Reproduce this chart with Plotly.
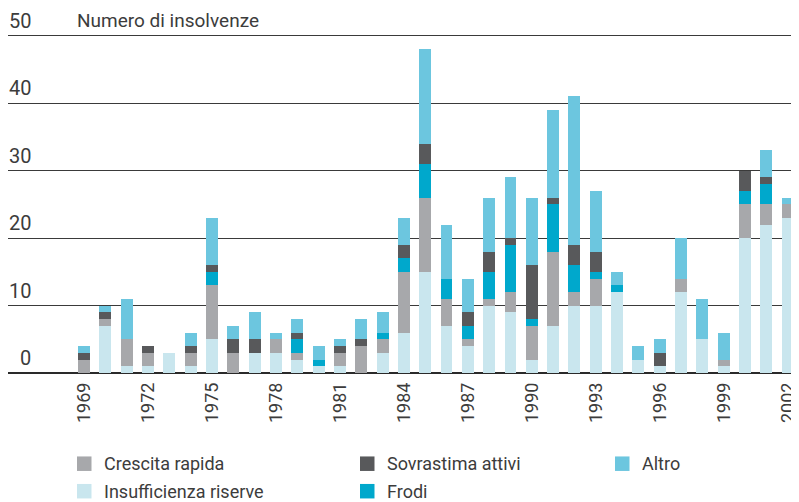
import plotly.graph_objects as go

# ---------------- data ----------------
years = list(range(1969, 2003))

insufficienza = [0, 7, 1, 1, 3, 1, 5, 0, 3, 3, 2,
                 1, 1, 0, 3, 6, 15, 7, 4, 10, 9,
                 2, 7, 10, 10, 12, 2, 1, 12, 5, 1,
                 20, 22, 23]
crescita = [2, 1, 4, 2, 0, 2, 8, 3, 0, 2, 1,
            0, 2, 4, 2, 9, 11, 4, 1, 1, 3,
            5, 11, 2, 4, 0, 0, 0, 2, 0, 1,
            5, 3, 2]
frodi = [0, 0, 0, 0, 0, 0, 2, 0, 0, 0, 2,
         1, 0, 0, 1, 2, 5, 3, 2, 4, 7,
         1, 7, 4, 1, 1, 0, 0, 0, 0, 0,
         2, 3, 0]
sovrastima = [1, 1, 0, 1, 0, 1, 1, 2, 2, 0, 1,
              0, 1, 1, 0, 2, 3, 0, 2, 3, 1,
              8, 1, 3, 3, 0, 0, 2, 0, 0, 0,
              3, 1, 0]
altro = [1, 1, 6, 0, 0, 2, 7, 2, 4, 1, 2,
         2, 1, 3, 3, 4, 14, 8, 5, 8, 9,
         10, 13, 22, 9, 2, 2, 2, 6, 6, 4,
         0, 4, 1]

series_names = ["Insufficienza riserve", "Crescita rapida", "Frodi",
                "Sovrastima attivi", "Altro"]
series_values = [insufficienza, crescita, frodi, sovrastima, altro]
series_colors = ["#c9e6ee", "#a7a8ab", "#00a8cc", "#58595b", "#6cc6df"]

x_tick_years = list(range(1969, 2003, 3))
y_ticks = [0, 10, 20, 30, 40, 50]
y_title = "Numero di insolvenze"

# legend layout: (name, column, row)
legend_layout = [("Crescita rapida", 0, 0), ("Sovrastima attivi", 1, 0),
                 ("Altro", 2, 0), ("Insufficienza riserve", 0, 1),
                 ("Frodi", 1, 1)]

# ---------------- geometry (page pixels; page body has an 8px margin) ----------------
OFF = 8
W, H = 799 - OFF, 502 - OFF
ML, MR = 0, 0
Y0_PX = 373.3 - OFF    # figure pixel of y = 0
UNIT = 6.75            # pixels per unit
YMAX = 52
MT = Y0_PX - YMAX * UNIT
MB = H - Y0_PX
PW = W - ML - MR
PH = H - MT - MB

def px_x(px):
    return (px - OFF - ML) / PW

def px_y(py):
    return (H - MB - (py - OFF)) / PH

x_step = (787.7 - 84) / 33
x0 = 1969 - (84 - OFF - ML) / x_step
x1 = x0 + PW / x_step

FONT = "Roboto, 'Liberation Sans', Arial, sans-serif"
TXT = "#3c3c3c"

fig = go.Figure()
for name, vals, col in zip(series_names, series_values, series_colors):
    fig.add_trace(go.Bar(x=years, y=vals, name=name, marker_color=col,
                         marker_line_width=0, showlegend=False))

annotations = []
for v in y_ticks:
    annotations.append(dict(x=px_x(33), y=v, xref="paper", yref="y",
                            text=str(v), showarrow=False, xanchor="right",
                            yanchor="bottom", yshift=1,
                            font=dict(size=20, color=TXT, family=FONT)))
annotations.append(dict(x=px_x(75), y=50, xref="paper", yref="y",
                        text=y_title, showarrow=False, xanchor="left",
                        yanchor="bottom", yshift=1,
                        font=dict(size=19, color=TXT, family=FONT)))

shapes = []
col_px = [77, 360, 615]
row_px = [464, 491.5]
sq = 14.5
color_of = dict(zip(series_names, series_colors))
for name, c, r in legend_layout:
    xs = col_px[c]
    yc = row_px[r]
    shapes.append(dict(type="rect", xref="paper", yref="paper",
                       x0=px_x(xs), x1=px_x(xs + sq),
                       y0=px_y(yc + sq / 2), y1=px_y(yc - sq / 2),
                       fillcolor=color_of[name], line=dict(width=0)))
    annotations.append(dict(x=px_x(xs + sq + 10), y=px_y(yc), xref="paper",
                            yref="paper", text=name, showarrow=False,
                            xanchor="left", yanchor="middle",
                            font=dict(size=18, color=TXT, family=FONT)))

fig.update_layout(
    width=W, height=H,
    margin=dict(l=ML, r=MR, t=MT, b=MB, pad=0),
    barmode="stack", bargap=0.44,
    plot_bgcolor="white", paper_bgcolor="white",
    showlegend=False,
    font=dict(family=FONT, color=TXT),
    xaxis=dict(range=[x0, x1], tickmode="array", tickvals=x_tick_years,
               ticktext=[str(y) for y in x_tick_years], tickangle=-90,
               ticks="", showgrid=False, zeroline=False, showline=False,
               tickfont=dict(size=18, color=TXT, family=FONT),
               ticklabelstandoff=5),
    yaxis=dict(range=[0, YMAX], tickmode="array", tickvals=y_ticks,
               showticklabels=False, ticks="", showgrid=True,
               gridcolor="#3a3a3a", gridwidth=1, zeroline=True,
               zerolinecolor="#2a2a2a", zerolinewidth=1.5, showline=False),
    annotations=annotations, shapes=shapes,
    hovermode=False,
)

fig.write_html("out.html")
